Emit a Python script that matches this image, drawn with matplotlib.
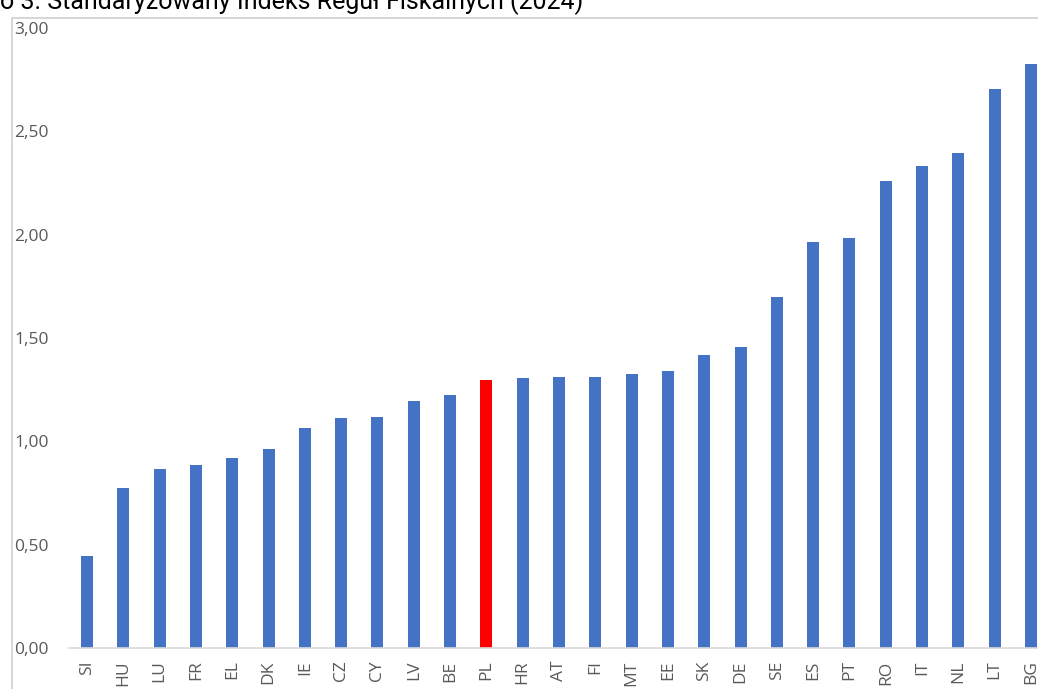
import matplotlib
matplotlib.use("Agg")
import matplotlib.pyplot as plt
from matplotlib.patches import Rectangle

# Data
countries = ["SI", "HU", "LU", "FR", "EL", "DK", "IE", "CZ", "CY", "LV", "BE", "PL", "HR",
             "AT", "FI", "MT", "EE", "SK", "DE", "SE", "ES", "PT", "RO", "IT", "NL", "LT", "BG"]
values = [0.445, 0.774, 0.866, 0.885, 0.919, 0.963, 1.064, 1.113, 1.118, 1.195, 1.224, 1.297,
          1.306, 1.311, 1.310, 1.326, 1.340, 1.417, 1.456, 1.698, 1.964, 1.984, 2.259, 2.332,
          2.395, 2.704, 2.825]
highlight = "PL"
yticks = [0, 0.5, 1.0, 1.5, 2.0, 2.5, 3.0]
title = "o 3. Standaryzowany Indeks Reguł Fiskalnych (2024)"

W, H = 1038, 689
fig = plt.figure(figsize=(W / 100, H / 100), dpi=100)

# axes in pixel terms: first bar centre ~87, last ~1031, y0 at 648, y3 at 28
n = len(countries)
step = (1031 - 87) / (n - 1)
left_px = 87 - step / 2
right_px = left_px + n * step
bottom_px, top_px = 648, 28
ax = fig.add_axes([left_px / W, 1 - bottom_px / H,
                   (right_px - left_px) / W, (bottom_px - top_px) / H])

colors = ["#FF0000" if c == highlight else "#4472C4" for c in countries]
ax.bar(range(n), values, width=0.33, color=colors)
ax.set_xlim(-0.5, n - 0.5)
ax.set_ylim(0, 3.0)

ax.set_yticks(yticks)
ax.set_yticklabels([f"{t:.2f}".replace(".", ",") for t in yticks],
                   ha="left", color="#595959", fontsize=12.5, family="Open Sans")
ax.tick_params(axis="y", length=0, pad=(left_px - 14) * 0.72)
ax.set_xticks(range(n))
ax.set_xticklabels(countries, rotation=90, color="#595959", fontsize=12.5, family="Open Sans")
ax.tick_params(axis="x", length=0, pad=9)

for s in ["top", "right", "left"]:
    ax.spines[s].set_visible(False)
ax.spines["bottom"].set_color("#d9d9d9")
ax.spines["bottom"].set_linewidth(1.2)

# chart frame, cut off by the image on the right and bottom
fig.patches.append(Rectangle((12 / W, -0.1), 1.2, 1 - 18 / H + 0.1, transform=fig.transFigure,
                             fill=False, edgecolor="#d0d0d0", linewidth=1.2))

# title, partly cut off at the top
fig.text(0.0, 1 - 9 / H, title, ha="left", va="baseline", fontsize=18, family="Roboto",
         color="black")

fig.savefig("out.png", dpi=100)
